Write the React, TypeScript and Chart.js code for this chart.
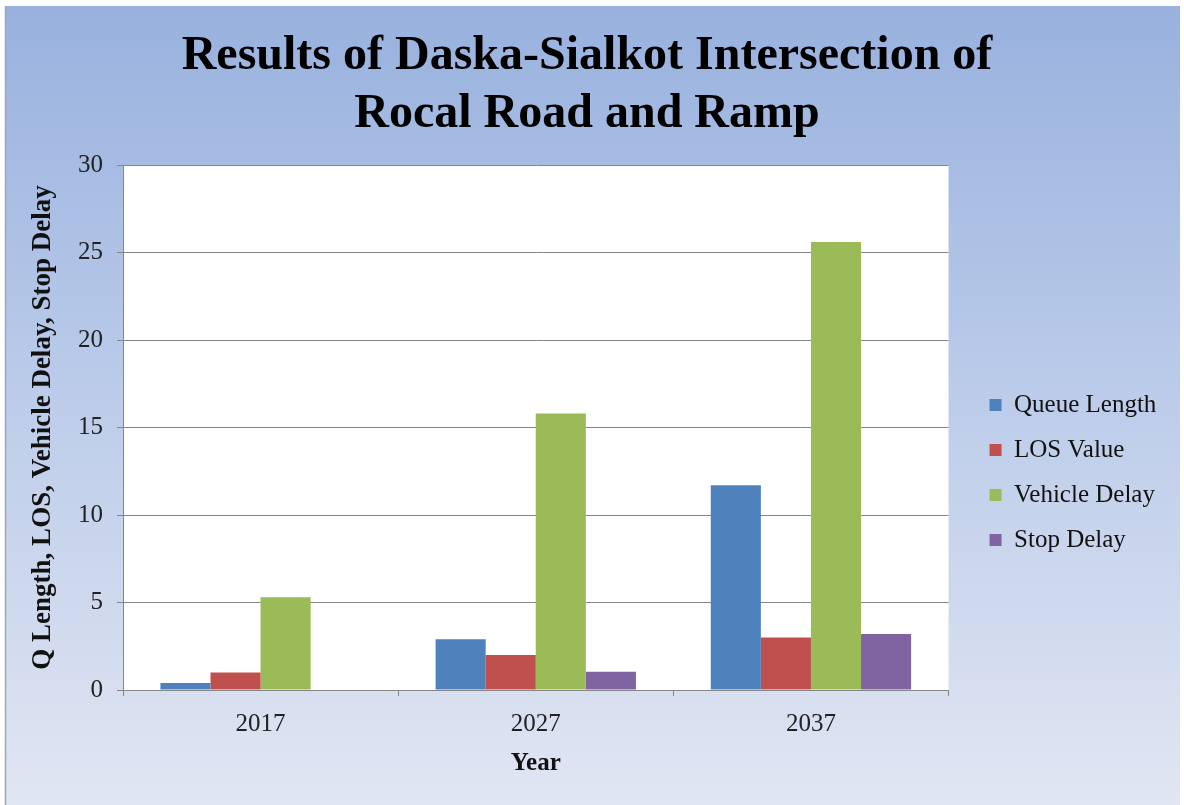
import React, { useEffect, useRef } from "react";
import { Chart, registerables } from "chart.js";

Chart.register(...registerables);

const categories = ["2017", "2027", "2037"];
const queueLength = [0.4, 2.9, 11.7];
const losValue = [1.0, 2.0, 3.0];
const vehicleDelay = [5.3, 15.8, 25.6];
const stopDelay = [0, 1.05, 3.2];
const seriesNames = ["Queue Length", "LOS Value", "Vehicle Delay", "Stop Delay"];
const seriesColors = ["#4f81bd", "#c0504d", "#9bbb59", "#8064a2"];
const titleLines = ["Results of Daska-Sialkot Intersection of", "Rocal Road and Ramp"];
const yTitle = "Q Length, LOS, Vehicle Delay, Stop Delay";
const xTitle = "Year";

const W = 1184;
const H = 805;
const FAMILY = "'Liberation Serif', 'Times New Roman', serif";
const AREA_LEFT = 123;
const AREA_RIGHT = 947;
const AREA_BOTTOM = 690;
const LEGEND_LEFT = 968;
const GRID = "#868686";

const bgPlugin = {
  id: "bgPlugin",
  beforeDraw(chart: any) {
    const { ctx, chartArea } = chart;
    ctx.save();
    ctx.fillStyle = "#ffffff";
    ctx.fillRect(0, 0, W, H);
    const g = ctx.createLinearGradient(0, 6, 0, H);
    g.addColorStop(0, "#98b1de");
    g.addColorStop(0.45, "#b9cae9");
    g.addColorStop(1, "#e1e6f2");
    ctx.fillStyle = g;
    ctx.fillRect(5, 6, W - 9, H - 6);
    ctx.strokeStyle = "#9aa6bb";
    ctx.lineWidth = 1.5;
    ctx.beginPath();
    ctx.moveTo(5.5, 6);
    ctx.lineTo(5.5, H);
    ctx.stroke();
    ctx.fillStyle = "#ffffff";
    ctx.fillRect(chartArea.left, chartArea.top, chartArea.right - chartArea.left, chartArea.bottom - chartArea.top);
    ctx.restore();
  },
};

export default function App() {
  const ref = useRef<HTMLCanvasElement | null>(null);

  useEffect(() => {
    const canvas = ref.current;
    if (!canvas) return;
    const mctx = canvas.getContext("2d")!;
    mctx.font = `25px ${FAMILY}`;
    let maxW = 0;
    for (const n of seriesNames) maxW = Math.max(maxW, mctx.measureText(n).width);
    const legendW = 20 + 12 + 12.5 + maxW + 10;
    const padR = Math.max(0, W - LEGEND_LEFT - legendW + 4);
    const padL = Math.max(0, padR - 10);

    const datasets = [queueLength, losValue, vehicleDelay, stopDelay].map((d, i) => ({
      label: seriesNames[i],
      data: d,
      backgroundColor: seriesColors[i],
      borderWidth: 0,
      categoryPercentage: 0.728,
      barPercentage: 1.0,
    }));

    const chart = new Chart(canvas, {
      type: "bar",
      data: { labels: categories, datasets },
      plugins: [bgPlugin],
      options: {
        responsive: false,
        animation: false,
        layout: { padding: { top: 0, bottom: 0, left: padL, right: padR } },
        plugins: {
          title: {
            display: true,
            text: titleLines,
            color: "#000000",
            font: { family: FAMILY, size: 48, weight: "bold", lineHeight: 1.2 },
            padding: { top: 28, bottom: 21.8 },
          },
          legend: {
            display: true,
            position: "right",
            title: { display: true, text: "", padding: { top: 0, bottom: 116 }, font: { size: 20, lineHeight: 1.2 } },
            labels: {
              boxWidth: 12,
              boxHeight: 12,
              padding: 20,
              color: "#111111",
              font: { family: FAMILY, size: 25 },
            },
          },
          tooltip: { enabled: false },
        },
        scales: {
          x: {
            grid: { display: true, drawOnChartArea: false, drawTicks: true, tickLength: 6, color: GRID, offset: true },
            border: { display: true, color: GRID, width: 1 },
            ticks: { color: "#222222", font: { family: FAMILY, size: 25 }, padding: 13, maxRotation: 0 },
            title: { display: true, text: xTitle, color: "#111111", font: { family: FAMILY, size: 25, weight: "bold", lineHeight: 1.2 }, padding: { top: 0, bottom: 26 } },
            afterFit: (s: any) => { s.height = H - AREA_BOTTOM; },
          },
          y: {
            min: 0,
            max: 30,
            ticks: { stepSize: 5, color: "#222222", font: { family: FAMILY, size: 25 }, padding: 14 },
            grid: { color: GRID, drawTicks: true, tickLength: 6, lineWidth: 1 },
            border: { display: true, color: GRID, width: 1 },
            title: { display: true, text: yTitle, color: "#111111", font: { family: FAMILY, size: 27, weight: "bold", lineHeight: 1.2 }, padding: { top: 27 - padL, bottom: 0 } },
            afterFit: (s: any) => { s.width = AREA_LEFT - padL; },
          },
          y2: {
            position: "right",
            display: true,
            grid: { display: false, drawTicks: false },
            border: { display: false },
            ticks: { display: false },
            afterFit: (s: any) => { s.width = LEGEND_LEFT - AREA_RIGHT; },
          },
        },
      },
    } as any);
    return () => chart.destroy();
  }, []);

  return (
    <div style={{ position: "fixed", left: 0, top: 0, width: W, height: H }}>
      <canvas ref={ref} width={W} height={H} style={{ width: W, height: H, display: "block" }} />
    </div>
  );
}
